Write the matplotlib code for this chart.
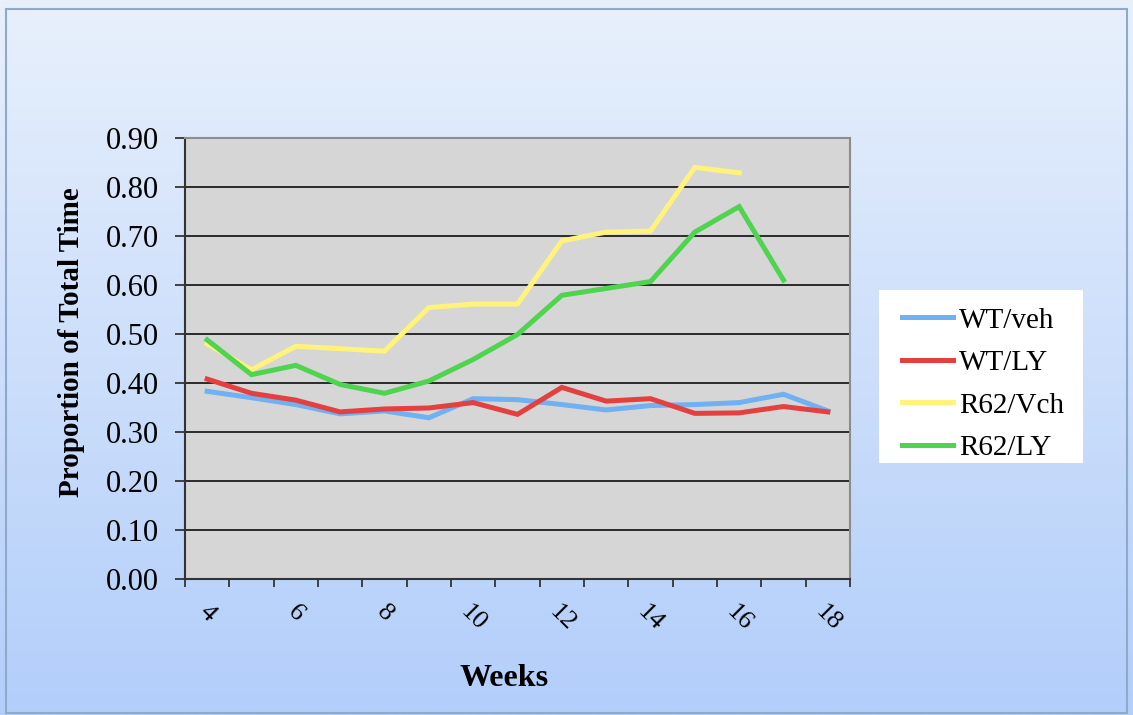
import numpy as np
import matplotlib.pyplot as plt
from matplotlib.patches import Rectangle

# Data
weeks = [4, 5, 6, 7, 8, 9, 10, 11, 12, 13, 14, 15, 16, 17, 18]
wt_veh = [0.383, 0.370, 0.356, 0.337, 0.343, 0.329, 0.368, 0.366, 0.356, 0.345, 0.354, 0.356, 0.360, 0.377, 0.343]
wt_ly = [0.408, 0.379, 0.365, 0.341, 0.347, 0.349, 0.360, 0.336, 0.391, 0.363, 0.368, 0.338, 0.339, 0.352, 0.341]
r62_vch = [0.480, 0.427, 0.475, 0.470, 0.465, 0.554, 0.561, 0.561, 0.690, 0.708, 0.710, 0.840, 0.829, None, None]
r62_ly = [0.488, 0.417, 0.436, 0.397, 0.379, 0.404, 0.448, 0.499, 0.579, 0.593, 0.607, 0.708, 0.760, 0.610, None]
series_names = ['WT/veh', 'WT/LY', 'R62/Vch', 'R62/LY']
series_colors = ['#6fb1f2', '#e4403f', '#fff37c', '#4fd44f']
week_labels = ['4', '6', '8', '10', '12', '14', '16', '18']

plt.rcParams['font.family'] = ['Liberation Serif', 'DejaVu Serif']

W, H = 1133, 715
fig = plt.figure(figsize=(W / 100, H / 100), dpi=100)

# gradient background
bg = fig.add_axes([0, 0, 1, 1], zorder=-10)
top = np.array([232, 240, 252]) / 255
bot = np.array([178, 206, 250]) / 255
t = np.linspace(0, 1, 256)[:, None]
grad = (top[None, :] * (1 - t) + bot[None, :] * t)[:, None, :]
bg.imshow(grad, aspect='auto', extent=[0, 1, 0, 1])
bg.add_patch(Rectangle((0.005, 0.003), 0.99, 0.985, fill=False, edgecolor='#8ea9c9', linewidth=1.5))
# white legend box
bg.add_patch(Rectangle((879 / W, 1 - 463 / H), 204 / W, 173 / H, facecolor='white', edgecolor='none'))
bg.set_xlim(0, 1)
bg.set_ylim(0, 1)
bg.axis('off')

ax = fig.add_axes([185 / W, 136 / H, 665 / W, 441 / H])
ax.set_facecolor('#d6d6d6')

all_series = [wt_veh, wt_ly, r62_vch, r62_ly]
for vals, name, col in zip(all_series, series_names, series_colors):
    y = np.array([np.nan if v is None else v for v in vals], dtype=float)
    ax.plot(weeks, y, color=col, linewidth=3.6, label=name, solid_joinstyle='miter', zorder=3)

ax.set_xlim(3.5, 18.5)
ax.set_ylim(0, 0.9)
ax.set_yticks(np.arange(0, 0.91, 0.1))
ax.set_yticklabels(['%.2f' % v for v in np.arange(0, 0.91, 0.1)], fontsize=22)
ax.yaxis.grid(True, color='#1e1e1e', linewidth=1.3)
ax.set_axisbelow(True)

# category boundaries get tick marks, labels sit at category centres
ax.set_xticks(np.arange(3.5, 18.6, 1))
ax.set_xticklabels([])
ax.set_xticks([int(w) for w in week_labels], minor=True)
ax.set_xticklabels(week_labels, minor=True, rotation=-45, fontsize=19, ha='center', va='top')
ax.tick_params(axis='x', which='major', direction='out', length=6, width=1.3, color='#333333')
ax.tick_params(axis='x', which='minor', length=0, pad=16)
ax.tick_params(axis='y', direction='out', length=7, width=1.3, color='#333333', pad=12)

for side in ['top', 'right']:
    ax.spines[side].set_color('#8c8c8c')
    ax.spines[side].set_linewidth(1.5)
for side in ['left', 'bottom']:
    ax.spines[side].set_color('#333333')
    ax.spines[side].set_linewidth(1.5)

ax.set_ylabel('Proportion of Total Time', fontsize=21, fontweight='bold')
ax.yaxis.set_label_coords(-100 / 665, 0.537)
ax.set_xlabel('Weeks', fontsize=23, fontweight='bold')
ax.xaxis.set_label_coords(0.48, -85 / 441)

leg = fig.legend(loc='upper left', bbox_to_anchor=(876 / W, 1 - 281 / H), frameon=False,
                 fontsize=21, handlelength=1.75, handletextpad=0.2,
                 labelspacing=0.55, borderpad=0.4)

fig.savefig('out.png', dpi=100)
